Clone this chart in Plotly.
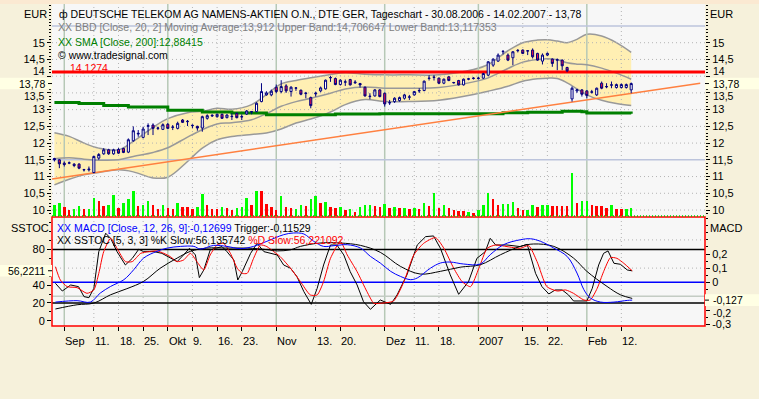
import pandas as pd
import plotly.graph_objects as go

# ---------------- calendar ----------------
holidays = ["2006-12-25", "2006-12-26", "2007-01-01"]
trading_days = [d.strftime("%Y-%m-%d") for d in pd.bdate_range("2006-08-30", "2007-02-14")
                if d.strftime("%Y-%m-%d") not in holidays]
day_pos = {d: i for i, d in enumerate(trading_days)}
pos = list(range(len(trading_days)))

# ---------------- price data (EUR) ----------------
open_ = [11.54, 11.50, 11.40, 11.40, 11.37, 11.37, 11.21, 11.20, 11.12, 11.55,
         11.68, 11.80, 11.68, 11.81, 11.84, 11.73, 12.07, 12.27, 12.17, 12.50,
         12.54, 12.44, 12.41, 12.56, 12.47, 12.44, 12.69, 12.64, 12.52, 12.50,
         12.45, 12.74, 12.81, 12.79, 12.86, 12.76, 12.79, 12.89, 12.78, 12.87,
         12.93, 12.94, 13.24, 13.44, 13.44, 13.67, 13.54, 13.71, 13.54, 13.64,
         13.58, 13.48, 13.36, 13.47, 13.56, 13.62, 13.95, 13.93, 13.75, 13.82,
         13.90, 13.80, 13.78, 13.67, 13.39, 13.41, 13.59, 13.49, 13.20, 13.24,
         13.27, 13.34, 13.37, 13.44, 13.56, 13.57, 13.93, 13.96, 13.94, 13.79,
         13.98, 13.80, 13.87, 13.74, 13.91, 13.93, 13.93, 13.94, 14.03, 14.33,
         14.45, 14.73, 14.63, 14.55, 14.76, 14.78, 14.75, 14.78, 14.68, 14.45,
         14.63, 14.51, 14.48, 14.48, 14.26, 13.32, 13.56, 13.59, 13.56, 13.52,
         13.44, 13.79, 13.68, 13.73, 13.66, 13.66, 13.66, 13.59]
high = [11.56, 11.52, 11.45, 11.45, 11.40, 11.40, 11.23, 11.30, 11.62, 11.70,
        11.85, 11.83, 11.83, 11.85, 11.86, 12.14, 12.50, 12.39, 12.49, 12.59,
        12.59, 12.49, 12.59, 12.60, 12.54, 12.64, 12.72, 12.69, 12.56, 12.52,
        12.82, 12.86, 12.86, 12.88, 12.88, 12.86, 12.89, 12.91, 12.86, 12.99,
        12.96, 13.22, 13.79, 13.55, 13.60, 13.75, 13.88, 13.76, 13.70, 13.66,
        13.60, 13.53, 13.39, 13.53, 13.69, 13.90, 14.01, 13.96, 13.91, 13.90,
        13.92, 13.88, 13.80, 13.69, 13.49, 13.61, 13.61, 13.51, 13.29, 13.37,
        13.39, 13.47, 13.44, 13.56, 13.64, 13.87, 14.03, 14.03, 13.96, 13.93,
        14.00, 13.83, 13.89, 13.93, 13.95, 13.97, 13.98, 14.10, 14.45, 14.53,
        14.68, 14.78, 14.68, 14.75, 14.81, 14.80, 14.78, 14.83, 14.70, 14.68,
        14.71, 14.53, 14.53, 14.50, 14.28, 13.69, 13.62, 13.61, 13.58, 13.59,
        13.66, 13.84, 13.79, 13.84, 13.78, 13.78, 13.78, 13.81]
low = [11.45, 11.25, 11.30, 11.37, 11.28, 11.22, 11.15, 11.15, 11.10, 11.50,
       11.65, 11.65, 11.65, 11.68, 11.70, 11.70, 12.04, 12.19, 12.14, 12.24,
       12.24, 12.39, 12.39, 12.42, 12.39, 12.41, 12.60, 12.51, 12.44, 12.37,
       12.34, 12.70, 12.78, 12.76, 12.72, 12.74, 12.69, 12.74, 12.69, 12.84,
       12.86, 12.92, 13.22, 13.42, 13.40, 13.49, 13.49, 13.50, 13.39, 13.56,
       13.43, 13.34, 13.04, 13.39, 13.52, 13.60, 13.83, 13.73, 13.72, 13.71,
       13.72, 13.77, 13.66, 13.39, 13.31, 13.39, 13.37, 13.09, 13.14, 13.20,
       13.24, 13.30, 13.29, 13.42, 13.50, 13.55, 13.87, 13.87, 13.76, 13.76,
       13.85, 13.78, 13.72, 13.72, 13.88, 13.90, 13.90, 13.92, 14.00, 14.28,
       14.43, 14.65, 14.45, 14.33, 14.71, 14.66, 14.63, 14.53, 14.46, 14.35,
       14.60, 14.28, 14.18, 14.18, 14.12, 13.24, 13.50, 13.39, 13.34, 13.48,
       13.41, 13.61, 13.64, 13.64, 13.63, 13.63, 13.63, 13.49]
close = [11.50, 11.38, 11.36, 11.41, 11.33, 11.25, 11.20, 11.22, 11.60, 11.66,
         11.80, 11.68, 11.80, 11.70, 11.72, 12.10, 12.37, 12.29, 12.42, 12.52,
         12.44, 12.45, 12.55, 12.44, 12.48, 12.59, 12.62, 12.65, 12.53, 12.45,
         12.79, 12.82, 12.83, 12.86, 12.74, 12.84, 12.80, 12.76, 12.79, 12.96,
         12.94, 13.19, 13.54, 13.50, 13.55, 13.54, 13.69, 13.56, 13.67, 13.65,
         13.46, 13.49, 13.12, 13.49, 13.65, 13.88, 13.96, 13.75, 13.88, 13.83,
         13.74, 13.82, 13.74, 13.41, 13.40, 13.59, 13.39, 13.17, 13.21, 13.34,
         13.36, 13.44, 13.38, 13.54, 13.57, 13.85, 13.94, 13.97, 13.79, 13.91,
         13.87, 13.81, 13.74, 13.91, 13.92, 13.94, 13.94, 14.08, 14.43, 14.51,
         14.63, 14.74, 14.48, 14.73, 14.77, 14.68, 14.76, 14.58, 14.48, 14.63,
         14.68, 14.38, 14.49, 14.31, 14.16, 13.64, 13.59, 13.46, 13.42, 13.53,
         13.64, 13.64, 13.69, 13.74, 13.75, 13.75, 13.75, 13.78]
volume = [10.7, 13.3, 9.0, 5.7, 6.7, 10.0, 6.7, 6.7, 17.7, 15.0,
          10.0, 10.7, 20.7, 7.7, 12.7, 16.7, 24.7, 10.0, 10.7, 15.0,
          10.7, 7.3, 10.7, 7.7, 6.7, 13.3, 9.0, 9.0, 6.7, 9.0,
          21.7, 10.7, 6.7, 7.3, 9.3, 7.7, 5.7, 7.7, 9.0, 17.7,
          10.7, 24.7, 24.7, 11.7, 9.3, 6.0, 20.0, 9.0, 8.3, 6.7,
          10.7, 9.7, 16.7, 20.0, 12.7, 14.0, 9.3, 7.7, 9.0, 5.7,
          6.7, 4.3, 9.0, 10.7, 10.7, 9.7, 9.0, 11.7, 7.7, 9.0,
          7.7, 7.7, 6.7, 7.7, 6.7, 12.7, 9.7, 22.7, 7.7, 10.7,
          7.7, 5.7, 4.7, 4.7, 4.3, 2.7, 6.0, 10.7, 22.7, 16.7,
          10.7, 11.7, 11.7, 13.7, 7.7, 5.7, 6.0, 10.7, 9.0, 10.7,
          10.7, 9.7, 9.7, 9.7, 9.7, 42.7, 12.7, 14.7, 14.7, 10.7,
          9.7, 9.7, 7.7, 10.7, 6.7, 6.7, 6.7, 7.7]
volume_dir = list("ggrrggrggr" "rggrgggrgg" "rrgrrgrrrg" "grrrgrrggg" "rgrrrrgrrg"
                  "grggrgrrgr" "grgggrrgrg" "rgrgrgrgrg" "rrrrgrgggr" "rgggrrggrg"
                  "grrrrgrggr" "rrrgrrgg")

# Bollinger Bands [Close, 20, 2] and SMA 200, read at trading-day positions
band_pos = [0, 3, 6, 9, 13, 16, 20, 23, 27, 30, 33, 36, 40, 43, 46, 49, 52, 56, 59, 63,
            67, 72, 78, 85, 88, 92, 95, 98, 100, 102, 104, 106, 108, 111, 114, 117]
bb_upper = [12.31, 12.20, 12.00, 11.85, 11.80, 12.05, 12.47, 12.73, 12.91, 12.95,
            13.04, 13.01, 13.15, 13.45, 13.77, 13.87, 13.95, 14.05, 14.10, 14.06,
            14.04, 14.04, 14.04, 14.20, 14.35, 14.76, 15.00, 15.08, 15.09, 15.05,
            15.00, 15.10, 15.25, 15.20, 15.00, 14.71]
bb_mid = [11.53, 11.56, 11.52, 11.49, 11.50, 11.60, 11.72, 11.86, 12.18, 12.40,
          12.57, 12.61, 12.70, 12.88, 13.10, 13.24, 13.34, 13.49, 13.62, 13.68,
          13.64, 13.64, 13.66, 13.83, 13.95, 14.23, 14.42, 14.50, 14.52, 14.49,
          14.40, 14.36, 14.34, 14.24, 14.09, 13.91]
bb_lower = [10.75, 10.92, 11.05, 11.12, 11.20, 11.14, 10.96, 10.98, 11.45, 11.85,
            12.10, 12.20, 12.26, 12.30, 12.42, 12.60, 12.72, 12.93, 13.15, 13.30,
            13.24, 13.24, 13.28, 13.45, 13.55, 13.70, 13.85, 13.92, 13.94, 13.93,
            13.80, 13.62, 13.44, 13.28, 13.18, 13.12]
sma_pos = [0, 5, 10, 15, 23, 30, 36, 43, 50, 57, 66, 80, 91, 96, 103, 107, 108, 117]
sma200 = [13.21, 13.18, 13.12, 13.08, 12.98, 12.93, 12.90, 12.85, 12.85, 12.87,
          12.88, 12.88, 12.91, 12.92, 12.95, 12.94, 12.90, 12.88]
trend_pos = [-0.49, 131.0]
trend_val = [10.93, 13.79]
resistance = 14.1274

# Slow stochastic [5,3,3] and MACD [12,26,9]
k_pos = [0.2, 1.6, 3.3, 4.9, 6.0, 7.0, 8.0, 9.0, 10.4, 11.4, 12.7, 14.4, 15.8, 17.1, 18.1,
         20.2, 21.8, 23.5, 24.9, 26.2, 27.4, 28.6, 29.4, 30.3, 31.6, 32.7, 34.0, 35.0, 36.4,
         37.2, 38.1, 39.8, 41.1, 42.5, 45.2, 46.5, 47.9, 49.2, 50.6, 52.1, 53.3, 54.6, 56.0,
         57.3, 58.7, 60.0, 61.4, 62.7, 64.1, 66.1, 68.2, 69.5, 71.5, 73.6, 75.3, 76.9, 78.3,
         80.3, 82.0, 84.0, 85.7, 87.4, 88.4, 89.5, 91.8, 94.5, 95.9, 97.6, 98.9, 100.3, 101.6,
         103.0, 104.3, 105.3, 108.0, 109.1, 110.4, 111.4, 112.3, 113.5, 114.8, 116.2, 117.2]
k_slow = [42.1, 33.4, 40.2, 38.3, 27.1, 25.9, 36.4, 77.7, 98.4, 92.7, 77.7, 62.7, 70.2, 80.4,
          77.7, 77.7, 75.8, 70.2, 66.5, 74.0, 81.5, 74.0, 48.5, 57.1, 79.6, 81.5, 83.4, 77.7,
          68.3, 45.8, 55.2, 75.8, 87.1, 77.7, 74.0, 62.7, 59.0, 49.6, 32.7, 18.4, 36.4, 62.7,
          85.2, 85.2, 74.0, 55.2, 40.2, 21.4, 12.8, 23.3, 18.4, 28.9, 51.5, 85.2, 94.6, 95.4,
          81.5, 51.5, 29.7, 44.0, 70.2, 77.7, 92.7, 85.2, 85.2, 83.4, 86.0, 53.3, 38.3, 30.1,
          34.6, 34.6, 28.9, 22.2, 22.2, 36.4, 62.7, 75.8, 78.5, 64.6, 63.5, 57.1, 56.1]
d_pos = [0.2, 1.2, 2.6, 4.6, 6.6, 8.0, 9.0, 10.0, 11.4, 12.7, 14.4, 15.8, 17.5, 19.1, 20.8,
         22.2, 23.5, 24.9, 26.2, 27.6, 28.9, 30.3, 31.6, 33.0, 34.3, 35.7, 37.1, 38.1, 39.1,
         40.4, 41.8, 43.1, 44.5, 45.8, 47.9, 49.9, 51.9, 53.3, 54.6, 56.0, 58.0, 59.4, 61.4,
         63.4, 64.8, 66.1, 68.8, 70.9, 72.9, 74.9, 77.3, 79.0, 81.0, 82.7, 84.4, 86.1, 87.8,
         89.5, 91.8, 94.5, 96.2, 97.9, 99.9, 102.0, 103.7, 105.3, 107.4, 108.7, 110.1, 111.4,
         112.8, 114.1, 115.5, 117.2]
d_slow = [60.8, 45.8, 38.3, 37.2, 30.8, 34.6, 53.3, 77.7, 92.7, 81.5, 66.5, 66.5, 75.8, 77.7,
          78.5, 75.8, 72.1, 66.5, 68.3, 75.8, 66.5, 57.1, 74.0, 85.2, 87.1, 75.8, 59.0, 53.3,
          53.3, 70.2, 85.2, 83.4, 77.7, 72.1, 59.0, 44.0, 29.0, 29.0, 44.0, 70.2, 89.0, 74.0,
          55.2, 32.7, 19.6, 19.6, 22.2, 44.0, 74.0, 87.1, 93.5, 81.5, 59.0, 44.0, 38.3, 59.0,
          81.5, 85.2, 83.4, 81.5, 84.5, 66.5, 38.3, 33.4, 34.6, 30.8, 23.3, 23.3, 36.4, 55.2,
          71.0, 70.2, 64.6, 56.2]
macd_pos = [0.2, 4.6, 7.3, 9.3, 11.4, 14.1, 16.1, 18.1, 20.8, 22.9, 25.6, 28.3, 29.6, 32.3,
            35.0, 37.7, 40.4, 43.1, 46.5, 48.5, 50.6, 52.6, 54.6, 56.7, 59.4, 62.1, 64.1, 66.1,
            68.2, 70.2, 72.2, 73.6, 76.3, 78.3, 80.3, 83.0, 86.4, 88.4, 91.1, 94.5, 96.6, 98.6,
            101.3, 104.0, 106.0, 107.4, 108.7, 110.8, 113.5, 116.2, 117.2]
macd = [-0.141, -0.131, -0.141, -0.077, -0.030, 0.018, 0.089, 0.171, 0.219, 0.242, 0.254,
        0.254, 0.235, 0.261, 0.254, 0.238, 0.254, 0.290, 0.337, 0.349, 0.342, 0.290, 0.254,
        0.259, 0.266, 0.242, 0.183, 0.136, 0.077, 0.041, 0.018, 0.030, 0.100, 0.136, 0.143,
        0.129, 0.129, 0.195, 0.266, 0.301, 0.308, 0.290, 0.242, 0.183, 0.065, -0.053, -0.112,
        -0.141, -0.141, -0.129, -0.127]
trig_pos = [0.2, 4.6, 8.0, 11.4, 14.7, 18.1, 21.5, 24.9, 27.6, 30.9, 35.0, 39.1, 43.1, 45.2,
            47.9, 49.9, 53.9, 58.0, 62.1, 66.1, 70.2, 74.2, 78.3, 82.4, 86.4, 90.5, 94.5, 97.2,
            101.3, 105.3, 108.0, 112.1, 114.8, 117.2]
trigger = [-0.190, -0.160, -0.148, -0.089, -0.046, 0.006, 0.100, 0.171, 0.219, 0.242, 0.242,
           0.242, 0.231, 0.222, 0.230, 0.254, 0.278, 0.278, 0.261, 0.212, 0.112, 0.058, 0.077,
           0.107, 0.124, 0.195, 0.254, 0.271, 0.254, 0.171, 0.077, -0.030, -0.089, -0.115]

# ---------------- axis labels ----------------
tick_dates = ["2006-09-01", "2006-09-11", "2006-09-18", "2006-09-25", "2006-10-02", "2006-10-09",
              "2006-10-16", "2006-10-23", "2006-11-01", "2006-11-13", "2006-11-20", "2006-12-01",
              "2006-12-11", "2006-12-18", "2007-01-02", "2007-01-15", "2007-01-22", "2007-02-01",
              "2007-02-12"]
tick_text = ["Sep", "11.", "18.", "25.", "Okt", "9.", "16.", "23.", "Nov", "13.", "20.", "Dez",
             "11.", "18.", "2007", "15.", "22.", "Feb", "12."]
month_dates = ["2006-09-01", "2006-10-02", "2006-11-01", "2006-12-01", "2007-01-02", "2007-02-01"]
price_ticks = [10, 10.5, 11, 11.5, 12, 12.5, 13, 13.5, 14, 14.5, 15]
price_grid_solid = [11.5, 15.5]
price_grid_dotted = [10, 10.5, 11, 12, 12.5, 13, 13.5, 14, 14.5, 15]
stoch_ticks = [0, 20, 40, 80]
macd_ticks = [-0.3, -0.2, 0, 0.1, 0.2]
last_close = 13.78
stoch_last = 56.2211
macd_last = -0.127
crowded_ticks = [14, 13.5]      # price labels squeezed against the last-close marker
crowded_macd_tick = -0.2        # MACD label squeezed under the last-MACD marker

# ---------------- geometry ----------------
X0, X1 = -0.49, 131.97
P0, P1 = 9.821, 16.157
S0, S1 = -5.97, 116.7
M0, M1 = -0.3106, 0.4624
FONT = "Liberation Sans, Arial, sans-serif"
BOX_H = 0.17
BOX_M = 0.041


def de(v):
    return ("%g" % v).replace(".", ",")


fig = go.Figure()

# Bollinger band
fig.add_trace(go.Scatter(x=band_pos, y=bb_lower, mode="lines", line=dict(color="#999999", width=1.5, shape="spline"),
                         xaxis="x", yaxis="y"))
fig.add_trace(go.Scatter(x=band_pos, y=bb_upper, mode="lines", line=dict(color="#999999", width=1.5, shape="spline"),
                         fill="tonexty", fillcolor="#FFEFB3", xaxis="x", yaxis="y"))

# grid drawn above the band fill
week_pos = [day_pos[d] for d in tick_dates if d not in month_dates]
month_pos = [day_pos[d] for d in month_dates]


def vsegs(xs, y0, y1):
    gx, gy = [], []
    for xv in xs:
        gx += [xv, xv, None]
        gy += [y0, y1, None]
    return gx, gy


def hsegs(ys):
    gx, gy = [], []
    for yv in ys:
        gx += [X0, X1, None]
        gy += [yv, yv, None]
    return gx, gy


gx, gy = vsegs(week_pos, P0, P1)
fig.add_trace(go.Scatter(x=gx, y=gy, mode="lines", line=dict(color="#B4B4B4", width=1, dash="1px,3px"),
                         xaxis="x", yaxis="y"))
gx, gy = hsegs(price_grid_dotted)
fig.add_trace(go.Scatter(x=gx, y=gy, mode="lines", line=dict(color="#B4B4B4", width=1, dash="1px,3px"),
                         xaxis="x", yaxis="y"))
gx, gy = vsegs(month_pos, P0, P1)
fig.add_trace(go.Scatter(x=gx, y=gy, mode="lines", line=dict(color="#B6C8B6", width=1.5),
                         xaxis="x", yaxis="y"))
gx, gy = hsegs(price_grid_solid)
fig.add_trace(go.Scatter(x=gx, y=gy, mode="lines", line=dict(color="#BCC4DC", width=1.5),
                         xaxis="x", yaxis="y"))

fig.add_trace(go.Scatter(x=band_pos, y=bb_mid, mode="lines", line=dict(color="#999999", width=1.5, shape="spline"),
                         xaxis="x", yaxis="y"))
fig.add_trace(go.Scatter(x=sma_pos, y=sma200, mode="lines", line=dict(color="#008000", width=3, shape="hv"),
                         xaxis="x", yaxis="y"))
fig.add_trace(go.Scatter(x=trend_pos, y=trend_val, mode="lines", line=dict(color="#FF8040", width=1.5),
                         xaxis="x", yaxis="y"))
fig.add_trace(go.Scatter(x=[X0, X1], y=[resistance, resistance], mode="lines",
                         line=dict(color="#FF0000", width=3), xaxis="x", yaxis="y"))

# candles on the overlaid right price axis (same range) so they sit above the band fill
fig.add_trace(go.Candlestick(x=pos, open=open_, high=high, low=low, close=close,
                             increasing=dict(line=dict(color="#000080", width=1), fillcolor="#FFFFFF"),
                             decreasing=dict(line=dict(color="#000080", width=1), fillcolor="#E0104A"),
                             whiskerwidth=0, xaxis="x", yaxis="y2"))

fig.add_trace(go.Bar(x=pos, y=volume, width=0.5,
                     marker=dict(color=["#00FF00" if c == "g" else "#FF0000" for c in volume_dir], line=dict(width=0)),
                     xaxis="x", yaxis="y3"))

# lower panel
fig.add_trace(go.Scatter(x=trig_pos, y=trigger, mode="lines", line=dict(color="#000000", width=1, shape="spline"),
                         xaxis="x2", yaxis="y5"))
fig.add_trace(go.Scatter(x=macd_pos, y=macd, mode="lines", line=dict(color="#0000FF", width=1, shape="spline"),
                         xaxis="x2", yaxis="y5"))
fig.add_trace(go.Scatter(x=k_pos, y=k_slow, mode="lines", line=dict(color="#000000", width=1),
                         xaxis="x2", yaxis="y4"))
fig.add_trace(go.Scatter(x=d_pos, y=d_slow, mode="lines", line=dict(color="#FF0000", width=1, shape="spline", smoothing=0.6),
                         xaxis="x2", yaxis="y4"))

shapes = []
for xv in week_pos:
    shapes.append(dict(type="line", xref="x2", yref="y4 domain", x0=xv, x1=xv, y0=0, y1=1, layer="below",
                       line=dict(color="#B4B4B4", width=1, dash="1px,3px")))
for xv in month_pos:
    shapes.append(dict(type="line", xref="x2", yref="y4 domain", x0=xv, x1=xv, y0=0, y1=1, layer="below",
                       line=dict(color="#B6C8B6", width=1.5)))
for yv in [0.3, 0.1]:
    shapes.append(dict(type="line", xref="x2 domain", yref="y5", x0=0, x1=1, y0=yv, y1=yv, layer="below",
                       line=dict(color="#B4B4B4", width=1, dash="1px,3px")))
shapes.append(dict(type="line", xref="x2 domain", yref="y5", x0=0, x1=1, y0=-0.1, y1=-0.1, layer="below",
                   line=dict(color="#C4CCC4", width=1.5)))
for yv in [80, 20]:
    shapes.append(dict(type="line", xref="x2 domain", yref="y4", x0=0, x1=1, y0=yv, y1=yv, layer="below",
                       line=dict(color="#000000", width=1.5)))
shapes.append(dict(type="line", xref="x2 domain", yref="y5", x0=0, x1=1, y0=0, y1=0, layer="below",
                   line=dict(color="#0000FF", width=1.5)))
# panel frame and separators
shapes.append(dict(type="rect", xref="paper", yref="y4 domain", x0=0, x1=1, y0=0, y1=1, layer="above",
                   line=dict(color="#FF0000", width=1.5)))
shapes.append(dict(type="line", xref="paper", yref="paper", x0=0, x1=1, y0=0.3416, y1=0.3416, layer="above",
                   line=dict(color="#00CC00", width=1.5, dash="1px,2px")))
shapes.append(dict(type="rect", xref="paper", yref="paper", x0=-0.08, x1=1.083, y0=1.0, y1=1.02,
                   layer="below", fillcolor="#FBE9D2", line=dict(width=0)))
# highlighted value boxes
for (xa, xb, yref, yv, hh) in [(-0.08, 0.0, "y", last_close, BOX_H), (1.0, 1.083, "y", last_close, BOX_H),
                                 (-0.08, 0.0, "y4", stoch_last, 6.5), (1.0, 1.083, "y5", macd_last, BOX_M)]:
    shapes.append(dict(type="rect", xref="paper", yref=yref, x0=xa, x1=xb, y0=yv - hh, y1=yv + hh,
                       layer="above", fillcolor="#FFFFE4", line=dict(width=0)))
# small tick dashes next to highlighted values
for (xa, xb, yref, yv) in [(-0.0061, 0.0, "y", last_close), (1.0, 1.0061, "y", last_close),
                            (-0.0061, 0.0, "y4", stoch_last), (1.0, 1.0061, "y5", macd_last)]:
    shapes.append(dict(type="line", xref="paper", yref=yref, x0=xa, x1=xb, y0=yv, y1=yv, layer="above",
                       line=dict(color="#000000", width=1)))

ann = []


def txt(text, x, y, color="#000000", xanchor="left", yref="paper", xref="paper", size=11, yanchor="middle"):
    ann.append(dict(text=text, x=x, y=y, xref=xref, yref=yref, xanchor=xanchor, yanchor=yanchor,
                    showarrow=False, font=dict(color=color, size=size, family=FONT), borderpad=0))


LS = 10.5
txt("ф DEUTSCHE TELEKOM AG NAMENS-AKTIEN O.N., DTE GER, Tageschart - 30.08.2006 - 14.02.2007 - 13,78",
    0.0085, 0.9689, size=LS)
txt("XX BBD [Close, 20, 2] Moving Average:13,912 Upper Band:14,706647 Lower Band:13,117353", 0.0077, 0.9286,
    color="#808080", size=LS)
txt("XX SMA [Close, 200]:12,88415", 0.0077, 0.882, color="#008000", size=LS)
txt("© www.tradesignal.com", 0.0077, 0.843, size=LS)
txt("14,1274", 0.026, 0.800, color="#FF0000", size=LS)
txt("<span style='color:#0000FF'>XX MACD [Close, 12, 26, 9]:-0,12699</span> Trigger:-0,11529", 0.0061, 0.3059,
    size=LS)
txt("XX SSTOC [5, 3, 3] %K Slow:56,135742 <span style='color:#FF0000'>%D Slow:56,221092</span>", 0.0061, 0.2671,
    size=LS)
txt("EUR", -0.006, 0.9689, xanchor="right")
txt("EUR", 1.0061, 0.9689)
txt("SSTOC", -0.003, 0.3059, xanchor="right")
txt("MACD", 1.0061, 0.3059)
txt(de(last_close), -0.0092, last_close, xanchor="right", yref="y", size=10.5)
txt(de(last_close), 1.0107, last_close, yref="y", size=10.5)
txt(de(stoch_last), -0.0092, stoch_last, xanchor="right", yref="y4", size=10.5)
txt(de(macd_last), 1.0107, macd_last, yref="y5", size=10.5)
# the crowded labels sit just above / below the marker boxes
txt(de(14), -0.0092, last_close + BOX_H, xanchor="right", yref="y", yanchor="bottom", size=10.5)
txt(de(14), 1.0107, last_close + BOX_H, yref="y", yanchor="bottom", size=10.5)
txt(de(13.5), -0.0092, last_close - BOX_H, xanchor="right", yref="y", yanchor="top", size=10.5)
txt(de(13.5), 1.0107, last_close - BOX_H, yref="y", yanchor="top", size=10.5)
txt(de(crowded_macd_tick), 1.0107, macd_last - BOX_M, yref="y5", yanchor="top", size=10.5)
for d, t in zip(tick_dates, tick_text):
    txt(t, day_pos[d], -0.0466, xref="x2")

tickfont = dict(size=11, color="#000000", family=FONT)
yprice = dict(range=[P0, P1], tickvals=price_ticks,
              ticktext=["" if v in crowded_ticks else de(v) for v in price_ticks],
              ticks="outside", ticklen=4, tickcolor="#000000", showgrid=False, zeroline=False, showline=False,
              tickfont=tickfont, fixedrange=True,
              minor=dict(tickmode="linear", tick0=0, dtick=0.1, ticks="outside", ticklen=2,
                         tickcolor="#000000", showgrid=False))

fig.update_layout(
    width=759, height=399,
    margin=dict(l=52, r=54, t=4, b=73, pad=0),
    paper_bgcolor="#F6F1DB", plot_bgcolor="#F7F7F7",
    showlegend=False, hovermode=False, bargap=0, boxgap=0.4,
    font=dict(family=FONT, size=11, color="#000000"),
    xaxis=dict(domain=[0, 1], anchor="y", range=[X0, X1], showticklabels=False, showgrid=False,
               zeroline=False, showline=False, ticks="", rangeslider=dict(visible=False)),
    xaxis2=dict(domain=[0, 1], anchor="y4", range=[X0, X1], matches="x", showgrid=False, zeroline=False,
                showline=False, tickvals=[day_pos[d] for d in tick_dates], ticktext=["" for _ in tick_dates],
                ticks="outside", ticklen=4, tickcolor="#000000", rangeslider=dict(visible=False)),
    yaxis=dict(domain=[0.3416, 1], anchor="x", side="left", **yprice),
    yaxis2=dict(anchor="x", side="right", overlaying="y", **yprice),
    yaxis3=dict(anchor="x", overlaying="y", range=[0, 212], visible=False, fixedrange=True),
    yaxis4=dict(domain=[0, 0.3385], anchor="x2", side="left", range=[S0, S1], tickvals=stoch_ticks,
                ticktext=[de(v) for v in stoch_ticks], ticks="outside", ticklen=4, tickcolor="#000000",
                showgrid=False, zeroline=False, showline=False, tickfont=tickfont,
                minor=dict(tickmode="linear", tick0=0, dtick=10, ticks="outside", ticklen=2,
                           tickcolor="#000000", showgrid=False)),
    yaxis5=dict(anchor="x2", side="right", overlaying="y4", range=[M0, M1], tickvals=macd_ticks,
                ticktext=["" if v == crowded_macd_tick else de(v) for v in macd_ticks], ticks="outside",
                ticklen=4, tickcolor="#000000",
                showgrid=False, zeroline=False, showline=False, tickfont=tickfont,
                minor=dict(tickmode="linear", tick0=0, dtick=0.05, ticks="outside", ticklen=2,
                           tickcolor="#000000", showgrid=False)),
    shapes=shapes, annotations=ann,
)

fig.write_html("out.html", config={"displayModeBar": False},
               post_script="document.body.style.margin='0px';")
